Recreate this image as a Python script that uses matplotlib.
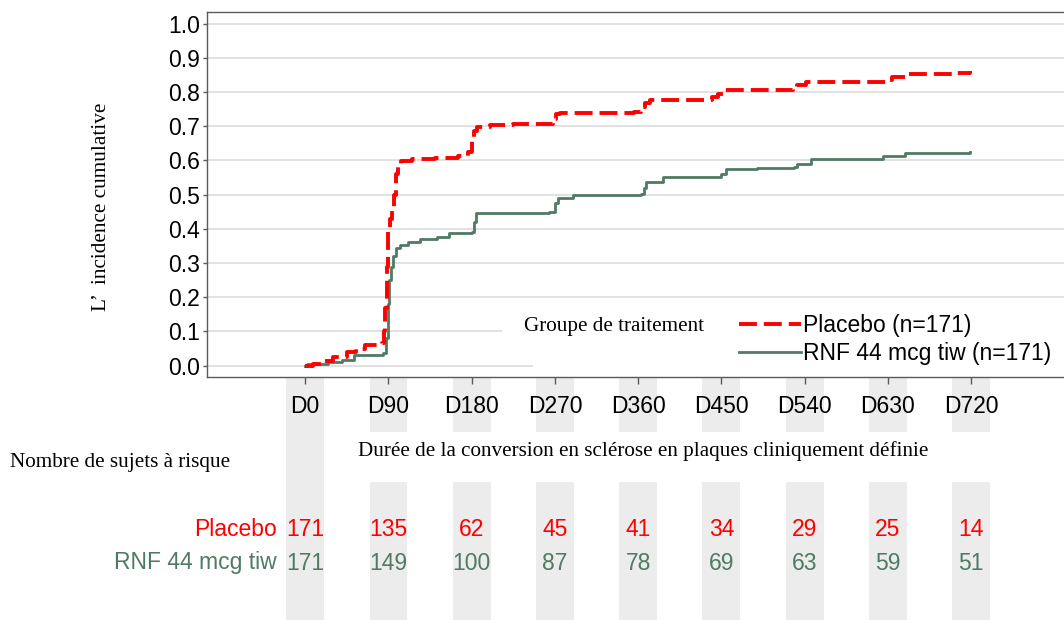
import numpy as np
import matplotlib
matplotlib.use('Agg')
import matplotlib.pyplot as plt
from matplotlib.patches import Rectangle
from matplotlib.transforms import blended_transform_factory

plt.rcParams['font.family'] = ['Liberation Sans', 'DejaVu Sans']

# Kaplan-Meier style cumulative incidence
placebo_days = [0, 8, 20, 30, 45, 55, 65, 83, 85, 86, 88, 90, 92, 94, 96, 98, 100, 104, 115, 140,
                165, 176, 180, 182, 186, 200, 225, 268, 271, 275, 355, 363, 367, 373, 440, 446, 452,
                527, 532, 541, 630, 634, 650, 700, 719]
placebo_inc = [0.000, 0.006, 0.015, 0.024, 0.040, 0.050, 0.060, 0.066, 0.100, 0.170, 0.290, 0.390,
               0.430, 0.460, 0.500, 0.560, 0.585, 0.598, 0.603, 0.608, 0.612, 0.625, 0.660, 0.685,
               0.698, 0.703, 0.707, 0.722, 0.735, 0.740, 0.742, 0.755, 0.768, 0.777, 0.785, 0.795,
               0.805, 0.815, 0.822, 0.830, 0.835, 0.843, 0.852, 0.855, 0.862]

rnf_days = [0, 2, 25, 40, 53, 84, 87, 89, 90, 91, 93, 95, 98, 103, 111, 124, 142, 156, 180, 182,
            185, 264, 270, 273, 290, 363, 366, 369, 387, 450, 455, 489, 529, 532, 547, 625, 649, 719]
rnf_inc = [0.000, 0.006, 0.012, 0.018, 0.030, 0.036, 0.080, 0.110, 0.180, 0.250, 0.290, 0.320,
           0.345, 0.352, 0.362, 0.370, 0.377, 0.387, 0.392, 0.420, 0.445, 0.448, 0.475, 0.490,
           0.499, 0.502, 0.520, 0.538, 0.553, 0.560, 0.574, 0.579, 0.582, 0.589, 0.604, 0.613,
           0.621, 0.626]

tick_days = [0, 90, 180, 270, 360, 450, 540, 630, 720]
tick_labels = ['D0', 'D90', 'D180', 'D270', 'D360', 'D450', 'D540', 'D630', 'D720']
risk_placebo = [171, 135, 62, 45, 41, 34, 29, 25, 14]
risk_rnf = [171, 149, 100, 87, 78, 69, 63, 59, 51]

groups = ['Placebo', 'RNF 44 mcg tiw']
legend_labels = ['Placebo (n=171)', 'RNF 44 mcg tiw (n=171)']
red = '#ff0000'
green = '#4f7a63'
W, H = 1064, 620

fig = plt.figure(figsize=(W / 100, H / 100), dpi=100)
ax = fig.add_axes([207.3 / W, 1 - 376.7 / H, (W - 207.3) / W, (376.7 - 12.3) / H])

ax.set_xlim(-105.9, 820.5)
ax.set_ylim(-0.0322, 1.0333)
ax.set_axisbelow(True)
ax.grid(axis='y', color='#dcdcdc', linewidth=1.2)

# white patches behind the legend hide the grid lines there
ax.add_patch(Rectangle((502 / W, 1 - 345 / H), 1, 40 / H, transform=fig.transFigure,
                       facecolor='white', edgecolor='none', zorder=1))
ax.add_patch(Rectangle((533 / W, 1 - 376 / H), 1, 31 / H, transform=fig.transFigure,
                       facecolor='white', edgecolor='none', zorder=1))

l1, = ax.step(placebo_days, placebo_inc, where='post', color=red, linewidth=2.8,
              linestyle=(0, (4.6, 1.8)), zorder=3)
l2, = ax.step(rnf_days, rnf_inc, where='post', color=green, linewidth=2.0, zorder=2)

ax.set_yticks(np.arange(0, 1.01, 0.1))
ax.set_yticklabels(['%.1f' % v for v in np.arange(0, 1.01, 0.1)], fontsize=16.5)
ax.set_xticks(tick_days)
ax.set_xticklabels(tick_labels, fontsize=16.5)
ax.tick_params(axis='y', length=3, width=1, color='#5a5a5a', pad=2)
ax.tick_params(axis='x', length=5, width=1, color='#5a5a5a', pad=8)
for s in ['left', 'top', 'bottom']:
    ax.spines[s].set_color('#5a5a5a')
    ax.spines[s].set_linewidth(1)
ax.spines['right'].set_visible(False)

leg = ax.legend([l1, l2], legend_labels, loc='upper left', bbox_to_anchor=(739 / W, 1 - 314 / H),
                bbox_transform=fig.transFigure, frameon=False, fontsize=16.5, borderpad=0,
                borderaxespad=0, handlelength=2.7, handletextpad=0.1, labelspacing=0.2)

serif = ['Liberation Serif', 'DejaVu Serif']
fig.text(524 / W, 1 - 327 / H, 'Groupe de traitement', family=serif, fontsize=15.2,
         ha='left', va='center')
fig.text(102 / W, 1 - 207 / H, 'L’  incidence cumulative', family=serif, fontsize=15.3,
         rotation=90, ha='center', va='center')
fig.text(643.5 / W, 1 - 451 / H, 'Durée de la conversion en sclérose en plaques cliniquement définie',
         family=serif, fontsize=15.2, ha='center', va='center')
fig.text(10 / W, 1 - 462 / H, 'Nombre de sujets à risque', family=serif, fontsize=15.2,
         ha='left', va='center')

# number-at-risk table with grey column bands
tr = blended_transform_factory(ax.transData, fig.transFigure)
band_w = 41
for i, d in enumerate(tick_days):
    if i == 0:
        spans = [(0, 1 - 377 / H)]
    else:
        spans = [(1 - 432 / H, 1 - 377 / H), (0, 1 - 482 / H)]
    for y0, y1 in spans:
        fig.add_artist(Rectangle((d - band_w / 2, y0), band_w, y1 - y0, transform=tr,
                                 facecolor='#ececec', edgecolor='none', zorder=0))
    ax.text(d, 1 - 529 / H, str(risk_placebo[i]), transform=tr, color=red, fontsize=16.5,
            ha='center', va='center', clip_on=False)
    ax.text(d, 1 - 563 / H, str(risk_rnf[i]), transform=tr, color=green, fontsize=16.5,
            ha='center', va='center', clip_on=False)

fig.text(277 / W, 1 - 529 / H, groups[0], color=red, fontsize=16.5, ha='right', va='center')
fig.text(277 / W, 1 - 563 / H, groups[1], color=green, fontsize=16.5, ha='right', va='center')

plt.savefig('out.png', dpi=100)
plt.close()
